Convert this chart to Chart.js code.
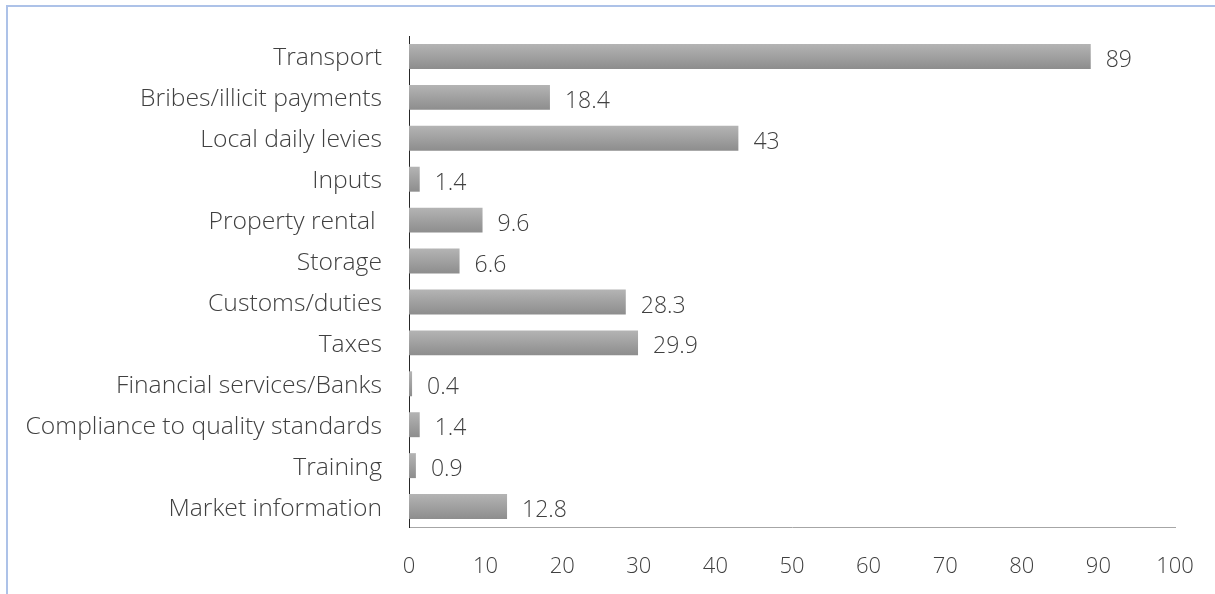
<!DOCTYPE html>
<html>
<head>
<meta charset="utf-8">
<script src="https://cdn.jsdelivr.net/npm/chart.js@4.4.1/dist/chart.umd.min.js"></script>
<style>
  html, body { margin: 0; padding: 0; background: #ffffff; }
  #wrap { width: 1215px; height: 594px; position: relative; }
</style>
</head>
<body>
<div id="wrap"><canvas id="c" width="1215" height="594"></canvas></div>
<script>
// Cost categories, top to bottom
const categories = [
  "Transport",
  "Bribes/illicit payments",
  "Local daily levies",
  "Inputs",
  "Property rental ",
  "Storage",
  "Customs/duties",
  "Taxes",
  "Financial services/Banks",
  "Compliance to quality standards",
  "Training",
  "Market information"
];

// Share reported for each category
const values = [89, 18.4, 43, 1.4, 9.6, 6.6, 28.3, 29.9, 0.4, 1.4, 0.9, 12.8];

// Horizontal axis ticks
const xTicks = [0, 10, 20, 30, 40, 50, 60, 70, 80, 90, 100];

const FONT = "'Open Sans', 'Noto Sans', sans-serif";
const TEXT = "#404040";
const BAR_PCT = 0.61;

// Vertical gradient per bar: lighter top edge, darker bottom edge.
// Bar extent comes from the category scale, which is laid out before the bars.
function barFill(ctx) {
  const chart = ctx.chart;
  const y = chart.scales && chart.scales.y;
  if (!y || ctx.dataIndex === undefined) return "#a0a0a0";
  const center = y.getPixelForValue(ctx.dataIndex);
  const band = (y.bottom - y.top) / categories.length;
  const half = band * BAR_PCT / 2;
  if (!isFinite(center) || !isFinite(half)) return "#a0a0a0";
  const g = chart.ctx.createLinearGradient(0, center - half, 0, center + half);
  g.addColorStop(0, "#b4b4b4");
  g.addColorStop(1, "#8d8d8d");
  return g;
}

// Outer frame: light blue rule along the top and left edges
const framePlugin = {
  id: "frame",
  beforeDraw(chart) {
    const c = chart.ctx;
    c.save();
    c.strokeStyle = "#adc2e8";
    c.lineWidth = 2;
    c.beginPath();
    c.moveTo(7, 594);
    c.lineTo(7, 6);
    c.lineTo(1215, 6);
    c.stroke();
    c.restore();
  }
};

// Value labels printed just past the end of each bar
const valueLabels = {
  id: "valueLabels",
  afterDatasetsDraw(chart) {
    const c = chart.ctx;
    const meta = chart.getDatasetMeta(0);
    c.save();
    c.font = "300 23px " + FONT;
    c.fillStyle = TEXT;
    c.textAlign = "left";
    c.textBaseline = "middle";
    meta.data.forEach((bar, i) => {
      c.fillText(String(values[i]), bar.x + 15, bar.y + 4);
    });
    c.restore();
  }
};

new Chart(document.getElementById("c"), {
  type: "bar",
  data: {
    labels: categories,
    datasets: [{
      data: values,
      backgroundColor: barFill,
      borderWidth: 0,
      categoryPercentage: 1,
      barPercentage: BAR_PCT
    }]
  },
  options: {
    indexAxis: "y",
    responsive: false,
    animation: false,
    devicePixelRatio: 1,
    layout: { padding: { left: 0, right: 40, top: 36, bottom: 0 } },
    plugins: {
      legend: { display: false },
      tooltip: { enabled: false }
    },
    scales: {
      x: {
        min: 0,
        max: 100,
        afterBuildTicks(scale) {
          scale.ticks = xTicks.map(v => ({ value: v }));
        },
        afterFit(scale) {
          scale.height = 67;
          scale.paddingLeft = 0;
          scale.paddingRight = 0;
        },
        grid: { display: false, drawTicks: false },
        border: { display: true, color: "#a6a6a6", width: 1 },
        ticks: {
          padding: 27,
          color: TEXT,
          font: { family: FONT, size: 22, weight: 300 },
          maxRotation: 0
        }
      },
      y: {
        afterFit(scale) {
          scale.width = 409;
          scale.paddingTop = 0;
          scale.paddingBottom = 0;
        },
        grid: { display: false, drawTicks: false },
        border: { display: true, color: "#262626", width: 1 },
        ticks: {
          padding: 27,
          labelOffset: 2,
          color: TEXT,
          font: { family: FONT, size: 24.7, weight: 300 },
          autoSkip: false
        }
      }
    }
  },
  plugins: [framePlugin, valueLabels]
});
</script>
</body>
</html>
